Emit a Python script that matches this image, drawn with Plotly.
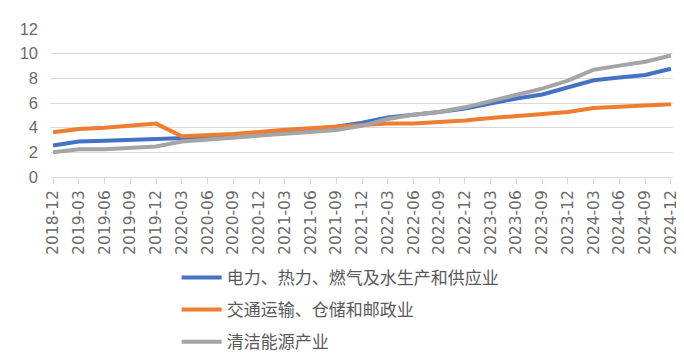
import plotly.graph_objects as go

categories = ["2018-12", "2019-03", "2019-06", "2019-09", "2019-12",
              "2020-03", "2020-06", "2020-09", "2020-12",
              "2021-03", "2021-06", "2021-09", "2021-12",
              "2022-03", "2022-06", "2022-09", "2022-12",
              "2023-03", "2023-06", "2023-09", "2023-12",
              "2024-03", "2024-06", "2024-09", "2024-12"]

power = [2.55, 2.88, 2.93, 3.0, 3.05, 3.1, 3.23, 3.36, 3.51, 3.69, 3.87, 4.07,
         4.4, 4.83, 5.04, 5.27, 5.55, 5.98, 6.36, 6.69, 7.3, 7.84, 8.07, 8.27, 8.78]
transport = [3.62, 3.9, 4.0, 4.2, 4.33, 3.3, 3.38, 3.49, 3.64, 3.84, 3.95, 4.07,
             4.15, 4.33, 4.33, 4.45, 4.58, 4.78, 4.96, 5.09, 5.27, 5.6, 5.67, 5.8, 5.9]
clean = [2.0, 2.24, 2.24, 2.37, 2.47, 2.88, 3.05, 3.18, 3.36, 3.51, 3.64, 3.82,
         4.15, 4.7, 5.04, 5.27, 5.65, 6.16, 6.6, 7.17, 7.81, 8.7, 9.03, 9.34, 9.85]

names = ["电力、热力、燃气及水生产和供应业", "交通运输、仓储和邮政业", "清洁能源产业"]
colors = ["#4472C4", "#ED7D31", "#A5A5A5"]
y_ticks = [0, 2, 4, 6, 8, 10, 12]

fig = go.Figure()
for i, (nm, vals, col) in enumerate(zip(names, [power, transport, clean], colors)):
    fig.add_trace(go.Scatter(
        x=categories, y=vals, name=nm, mode="lines",
        line=dict(color=col, width=4), legendgroup=str(i),
    ))

CJK = "Noto Sans CJK SC"
fig.update_layout(
    width=684, height=364,
    margin=dict(l=38, r=12, t=18, b=189),
    paper_bgcolor="white", plot_bgcolor="white",
    showlegend=True,
    legend=dict(
        orientation="v", x=0.202, xanchor="left", y=-0.56, yanchor="top",
        font=dict(family=CJK, size=17, color="#595959"),
        tracegroupgap=7, itemwidth=40, bgcolor="rgba(0,0,0,0)",
    ),
    font=dict(family="Liberation Sans", color="#595959"),
)
fig.update_xaxes(
    type="category", tickangle=-90, showgrid=False,
    showline=True, linecolor="#D9D9D9", linewidth=1,
    ticks="outside", ticklen=6, tickcolor="#D9D9D9",
    tickfont=dict(family="DejaVu Sans", size=15.5, color="#6b6b6b"),
    range=[-0.08, 24.08], zeroline=False,
)
fig.update_yaxes(
    range=[0, 12], tickvals=y_ticks, showgrid=True, gridcolor="#D9D9D9",
    gridwidth=1, zeroline=False, showline=False,
    tickfont=dict(family="Liberation Sans", size=16.5, color="#6b6b6b"),
    ticklabelstandoff=12,
)

fig.write_html("out.html")
